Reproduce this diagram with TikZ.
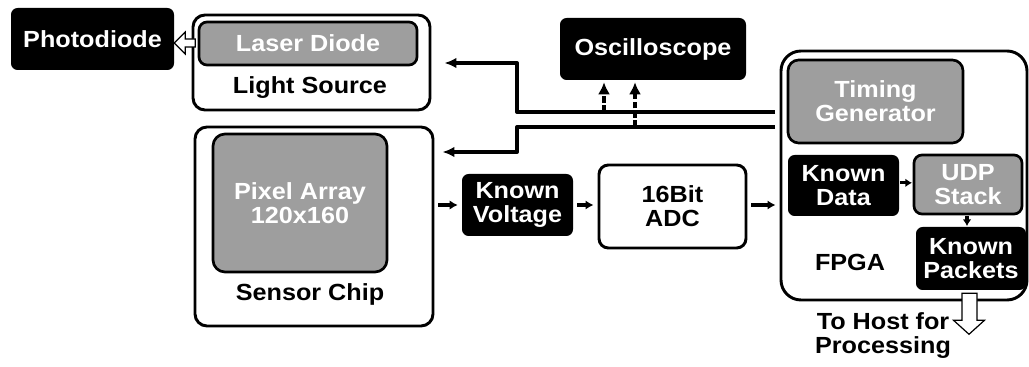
\documentclass[tikz,border=0pt]{standalone}
\usepackage{fontspec}
\setmainfont{Liberation Sans}[FakeStretch=1.08]
\usetikzlibrary{arrows.meta,calc}

\begin{document}
\begin{tikzpicture}[x=0.75pt, y=-0.75pt, line join=round,
  font=\bfseries\fontsize{17.5}{18}\selectfont,
  outerbox/.style={draw, line width=2.2pt, rounded corners=9pt, fill=white, inner sep=0pt},
  graybox/.style={draw, line width=2pt, rounded corners=6pt, fill=boxgray, text=white, align=center, inner sep=0pt},
  blackbox/.style={fill=black, rounded corners=5pt, text=white, align=center, inner sep=0pt},
  whitebox/.style={draw, line width=2.2pt, rounded corners=7pt, align=center, inner sep=0pt},
  wire/.style={line width=3pt, -{Latex[length=9pt,width=8pt]}},
  link/.style={line width=3pt, -{Latex[length=6pt,width=7pt]}, shorten >=3pt, shorten <=3pt},
  tinylink/.style={line width=2.5pt, -{Latex[length=5pt,width=6.5pt]}, shorten >=0.5pt, shorten <=0.5pt},
  probe/.style={line width=3pt, dash pattern=on 5pt off 2pt, -{Latex[length=9pt,width=9pt]}},
  hollow/.style={draw, fill=white, line width=0.9pt, line join=miter}]
  \definecolor{boxgray}{RGB}{158,158,158}

  \useasboundingbox (0,0) rectangle (1029,367);

  % outer blocks
  \node[outerbox, minimum width=177.75pt, minimum height=71.25pt] (light) at (311.5,62.5) {};
  \node[outerbox, minimum width=178.5pt, minimum height=149.25pt] (sensor) at (314,226.5) {};
  \node[outerbox, rounded corners=15pt, minimum width=184.5pt, minimum height=186.75pt] (fpga) at (904,175.5) {};

  % light source
  \node[graybox, minimum width=163.5pt, minimum height=32.25pt] (laser) at (308,43.5) {Laser Diode};
  \node (lightlabel) at (310,88) {Light Source};
  \node[blackbox, minimum width=122.25pt, minimum height=46.5pt] (photo) at (92.5,39) {Photodiode};

  % sensor chip
  \node[graybox, rounded corners=9pt, minimum width=130.5pt, minimum height=103.5pt] (pixel) at (300,203) {Pixel Array\\120x160};
  \node (sensorlabel) at (310,294) {Sensor Chip};

  % measurement chain
  \node[blackbox, minimum width=139.5pt, minimum height=46.5pt] (osc) at (653,49) {Oscilloscope};
  \node[blackbox, minimum width=83.25pt, minimum height=46.5pt] (kv) at (517.5,205) {Known\\Voltage};
  \node[whitebox, minimum width=110.25pt, minimum height=62.25pt] (adc) at (672.5,206.5) {16Bit\\ADC};

  % fpga
  \node[graybox, rounded corners=8pt, minimum width=131.25pt, minimum height=62.25pt] (tg) at (875.5,101.5) {Timing\\Generator};
  \node[blackbox, minimum width=83.25pt, minimum height=45.75pt] (kd) at (843.5,185.5) {Known\\Data};
  \node[graybox, minimum width=81pt, minimum height=44.25pt] (udp) at (968,184.5) {UDP\\Stack};
  \node[blackbox, minimum width=82.5pt, minimum height=47.25pt] (kp) at (971,258.5) {Known\\Packets};
  \node (fpgalabel) at (850,262) {FPGA};
  \node[align=center] (host) at (883,336) {To Host for\\Processing};

  % timing lines
  \coordinate (busA) at (775,112);
  \coordinate (busB) at (775,127);
  \coordinate (jogA) at (517,63);
  \coordinate (jogB) at (517,152);
  \coordinate (tapA) at (604,112);
  \coordinate (tapB) at (635,127);
  \draw[wire, shorten >=9.75pt] (busA) -| (jogA) -- (jogA -| light.east);
  \draw[wire, shorten >=6pt] (busB) -| (jogB) -- (jogB -| sensor.east);
  \draw[probe, shorten >=1.5pt] (tapA) -- (tapA |- osc.south);
  \draw[probe, shorten >=1.5pt] (tapB) -- (tapB |- osc.south);

  % data path
  \draw[link] (sensor.east |- kv.west) -- (kv.west);
  \draw[link] (kv.east) -- (kv.east -| adc.west);
  \draw[link] (adc.east |- kv.east) -- (kv.east -| fpga.west);
  \draw[tinylink] ([yshift=2pt]kd.east) -- ([yshift=2pt]kd.east -| udp.west);
  \draw[tinylink] ([xshift=-0.75pt]udp.south) -- ([xshift=-0.75pt]udp.south |- kp.north);

  % hollow arrows
  \draw[hollow] ([yshift=-3pt]photo.east) -- ++(11,-11) -- ++(0,7) -- ++(10,0) -- ++(0,8)
    -- ++(-10,0) -- ++(0,7) -- cycle;
  \draw[hollow] (kp.south) ++(-9,3) -- ++(15,0) -- ++(0,27) -- ++(7.5,0)
    -- ++(-15.5,14) -- ++(-15.5,-14) -- ++(8.5,0) -- cycle;
\end{tikzpicture}
\end{document}
